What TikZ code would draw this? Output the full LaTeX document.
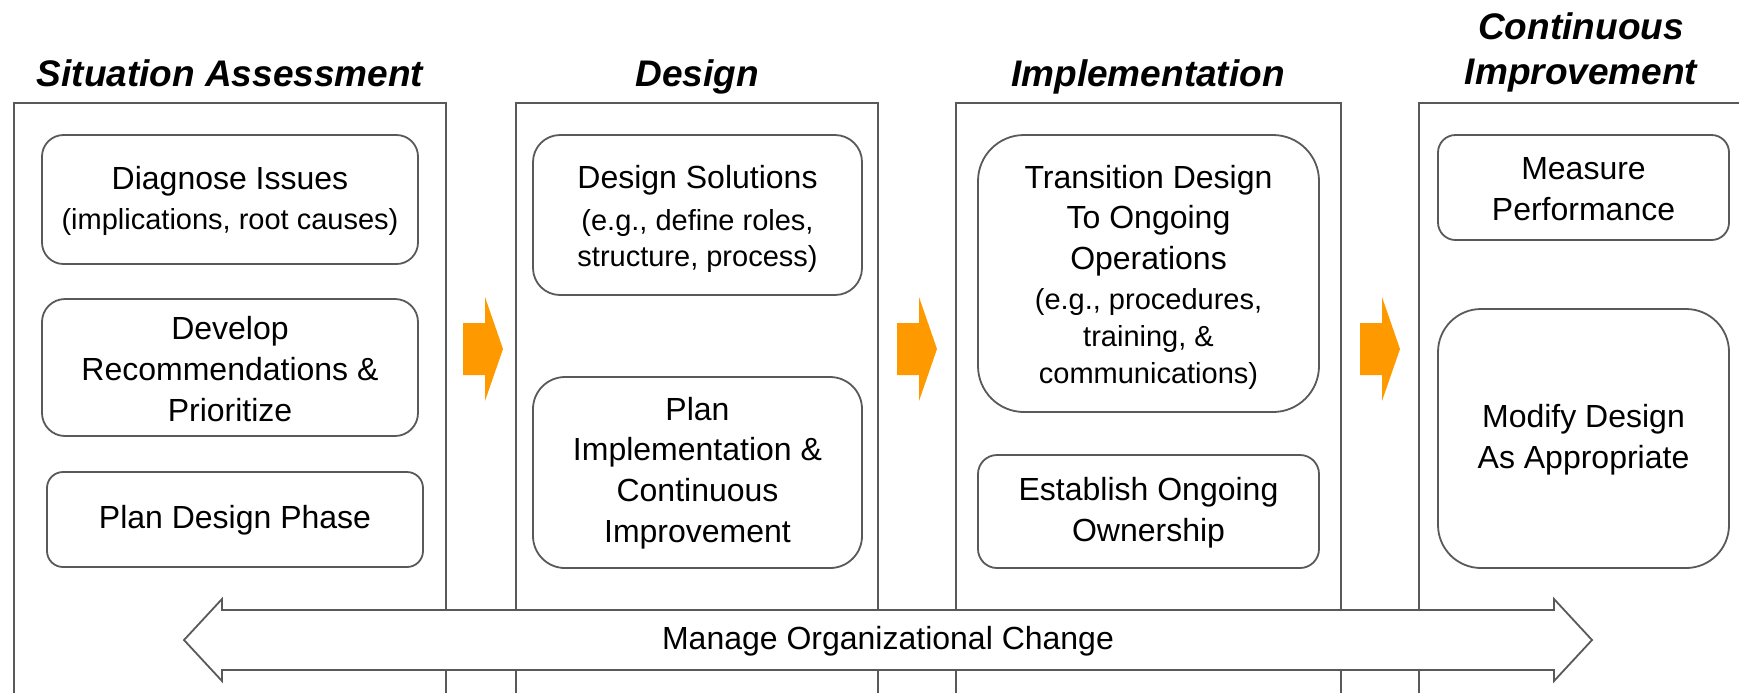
\documentclass[tikz,border=0pt]{standalone}
\usepackage{fontspec}
\setmainfont{Liberation Sans}

\definecolor{linegray}{HTML}{595959}
\definecolor{phaseorange}{HTML}{FF9900}

% smaller type for the bracketed examples
\newcommand{\subtxt}[1]{{\fontsize{14.5}{18}\selectfont #1}}

\tikzset{
  panel/.style={draw=linegray, line width=1pt},
  stepbox/.style={draw=linegray, line width=0.9pt},
  steptext/.style={align=center, inner sep=0pt, font=\fontsize{16}{20.3}\selectfont},
  phasetitle/.style={align=center, inner sep=0pt, font=\fontsize{18.5}{22.5}\selectfont\bfseries\itshape},
  phasearrow/.style={fill=phaseorange},
}

\begin{document}
\begin{tikzpicture}[x=0.5pt, y=-0.5pt]
% Page size of the reference, pixel units with y going down
\useasboundingbox (0,0) rectangle (1739,693);

% Phase columns, open at the bottom
\draw[panel] (14,693) -- (14,103) -- (446,103) -- (446,693);
\draw[panel] (516,693) -- (516,103) -- (878,103) -- (878,693);
\draw[panel] (956,693) -- (956,103) -- (1341,103) -- (1341,693);
\draw[panel] (1419,693) -- (1419,103) -- (1745,103);

% Column titles
\node[phasetitle, anchor=base] (sittitle) at (230,86) {Situation Assessment};
\node[phasetitle, anchor=base] (destitle) at (697,86) {Design};
\node[phasetitle, anchor=base] (imptitle) at (1148,86) {Implementation};
\node[phasetitle] (cititle) at (1581,52) {Continuous\\Improvement};

% Situation Assessment
\draw[stepbox, rounded corners=10.75pt] (42,135) rectangle (418,264);
\node[steptext] (diagnose) at (230,201) {Diagnose Issues\\\subtxt{(implications, root causes)}};
\draw[stepbox, rounded corners=11.5pt] (42,299) rectangle (418,436);
\node[steptext] (develop) at (230,369) {Develop\\Recommendations \&\\Prioritize};
\draw[stepbox, rounded corners=8pt] (47,472) rectangle (423,567);
\node[steptext] (plandesign) at (235,520) {Plan Design Phase};

% Design
\draw[stepbox, rounded corners=13.5pt] (533,135) rectangle (862,295);
\node[steptext] (solutions) at (697.5,219) {Design Solutions\\[0.5pt]\subtxt{(e.g., define roles,}\\[-2pt]\subtxt{structure, process)}};
\draw[stepbox, rounded corners=16pt] (533,377) rectangle (862,568);
\node[steptext] (planimpl) at (697.5,473) {Plan\\Implementation \&\\Continuous\\Improvement};

% Implementation
\draw[stepbox, rounded corners=23pt] (978,135) rectangle (1319,412);
\node[steptext] (transition) at (1148.5,277) {Transition Design\\To Ongoing\\Operations\\\subtxt{(e.g., procedures,}\\[-2pt]\subtxt{training, \&}\\[-2pt]\subtxt{communications)}};
\draw[stepbox, rounded corners=9.5pt] (978,455) rectangle (1319,568);
\node[steptext] (ownership) at (1148.5,513) {Establish Ongoing\\Ownership};

% Continuous Improvement
\draw[stepbox, rounded corners=8.75pt] (1438,135) rectangle (1729,240);
\node[steptext] (measure) at (1583.5,189) {Measure\\Performance};
\draw[stepbox, rounded corners=21.5pt] (1438,309) rectangle (1729,568);
\node[steptext] (modify) at (1583.5,440) {Modify Design\\As Appropriate};

% Orange arrows between the columns
\fill[phasearrow] (463,323) -- ++(22,0) -- ++(0,-26) -- ++(18,52) -- ++(-18,52) -- ++(0,-26) -- ++(-22,0) -- cycle;
\fill[phasearrow] (897,323) -- ++(22,0) -- ++(0,-26) -- ++(18,52) -- ++(-18,52) -- ++(0,-26) -- ++(-22,0) -- cycle;
\fill[phasearrow] (1360,323) -- ++(22,0) -- ++(0,-26) -- ++(18,52) -- ++(-18,52) -- ++(0,-26) -- ++(-22,0) -- cycle;

% Change management runs across all phases
\draw[stepbox, fill=white] (184,640) -- (222,599) -- (222,610) -- (1554,610) -- (1554,599)
  -- (1592,640) -- (1554,681) -- (1554,670) -- (222,670) -- (222,681) -- cycle;
\node[steptext] (change) at (888,641) {Manage Organizational Change};
\end{tikzpicture}
\end{document}
